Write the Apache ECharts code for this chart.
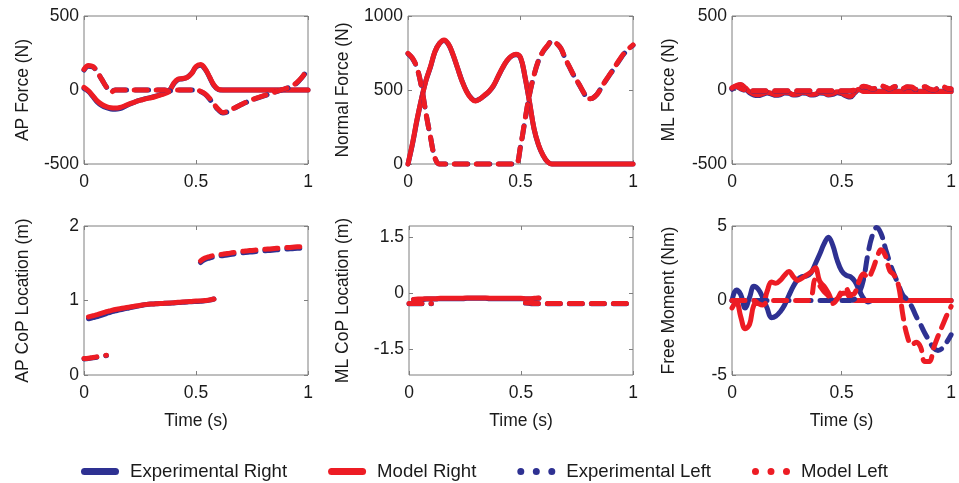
<!DOCTYPE html>
<html>
<head>
<meta charset="utf-8">
<script src="https://cdn.jsdelivr.net/npm/echarts@6/dist/echarts.min.js"></script>
<style>
html,body{margin:0;padding:0;background:#fff;}
#chart{width:959px;height:483px;}
</style>
</head>
<body>
<div id="chart"></div>
<script>
// ---- time grid (s) ----
const time = [0,0.02,0.04,0.06,0.08,0.10,0.12,0.14,0.16,0.18,
              0.20,0.22,0.24,0.26,0.28,0.30,0.32,0.34,0.36,0.38,
              0.40,0.42,0.44,0.46,0.48,0.50,0.52,0.54,0.56,0.58,
              0.60,0.62,0.64,0.66,0.68,0.70,0.72,0.74,0.76,0.78,
              0.80,0.82,0.84,0.86,0.88,0.90,0.92,0.94,0.96,0.98,1.00];

const seriesNames = ['Experimental Right','Model Right','Experimental Left','Model Left'];
const xTickLabels = ['0','0.5','1'];

// ---- AP Force (N) ----
const apExpRight = [10,-10,-45,-82,-106,-120,-128,-130,-125,-113,
  -98,-86,-74,-65,-57,-50,-42,-32,-20,-5,
  40,70,76,85,112,155,168,142,88,30,
  3,0,0,0,0,0,0,0,0,0,
  0,0,0,0,0,0,0,0,0,0,0];
const apModelRight = [18,-5,-40,-75,-98,-112,-120,-122,-118,-108,
  -95,-85,-74,-66,-58,-52,-44,-34,-24,-10,
  45,74,78,85,110,158,172,146,90,34,
  5,0,0,0,0,0,0,0,0,0,
  0,0,0,0,0,0,0,0,0,0,0];
const apExpLeft = [135,160,155,118,70,20,-10,0,0,0,
  0,0,0,0,0,0,0,0,0,-8,
  0,0,0,0,0,0,-10,-28,-60,-100,
  -135,-155,-148,-132,-116,-100,-86,-73,-61,-51,
  -41,-31,-21,-11,-1,9,20,35,62,98,143];
const apModelLeft = [140,165,158,120,70,20,-15,0,0,0,
  0,0,0,0,0,0,0,0,0,-10,
  0,0,0,0,0,0,-8,-25,-55,-95,
  -130,-152,-145,-130,-115,-100,-85,-72,-60,-50,
  -40,-30,-20,-10,0,10,22,38,65,100,146];

// ---- Normal Force (N) ----
const nfExpRight = [0,135,295,440,565,655,760,815,835,808,
  738,650,562,492,447,428,440,463,490,528,
  588,648,698,728,738,718,588,418,238,128,
  58,15,0,0,0,0,0,0,0,0,
  0,0,0,0,0,0,0,0,0,0,0];
const nfModelRight = [0,140,300,440,565,658,760,815,838,810,
  740,650,560,490,445,425,440,465,490,530,
  590,650,700,730,741,720,590,420,240,130,
  60,15,0,0,0,0,0,0,0,0,
  0,0,0,0,0,0,0,0,0,0,0];
const nfExpLeft = [745,712,648,520,342,182,42,0,0,0,
  0,0,0,0,0,0,0,0,0,0,
  0,0,0,0,0,118,295,468,598,698,
  758,798,828,815,778,708,648,588,538,484,
  440,445,470,518,565,610,655,702,745,775,802];
const nfModelLeft = [748,715,650,520,340,180,40,0,0,0,
  0,0,0,0,0,0,0,0,0,0,
  0,0,0,0,0,120,300,470,600,700,
  760,800,832,815,780,710,650,590,540,485,
  440,445,470,520,568,612,658,705,748,778,805];

// ---- ML Force (N) ----
const mlExpRight = [5,25,35,12,-18,-34,-38,-30,-20,-27,
  -36,-32,-20,-22,-34,-32,-20,-22,-34,-32,
  -20,-22,-34,-30,-18,-25,-40,-48,-20,2,
  -8,-8,-8,-8,-8,-8,-8,-8,-8,-8,
  -8,-8,-8,-8,-8,-8,-8,-8,-8,-8,-8];
const mlModelRight = [10,30,38,15,-12,-28,-32,-25,-15,-22,
  -32,-28,-15,-18,-30,-28,-15,-18,-30,-28,
  -15,-18,-30,-25,-12,-20,-35,-42,-15,5,
  -10,-10,-10,-10,-10,-10,-10,-10,-10,-10,
  -10,-10,-10,-10,-10,-10,-10,-10,-10,-10,-10];
const mlExpLeft = [12,22,8,-2,-6,-6,-6,-6,-6,-6,
  -6,-6,-6,-6,-6,-6,-6,-6,-6,-6,
  -6,-6,-6,-6,-6,-6,-6,-6,-2,8,
  22,18,6,12,25,18,6,20,22,8,
  20,18,3,10,20,6,-2,12,22,10,6];
const mlModelLeft = [15,25,10,0,-5,-5,-5,-5,-5,-5,
  -5,-5,-5,-5,-5,-5,-5,-5,-5,-5,
  -5,-5,-5,-5,-5,-5,-5,-5,0,10,
  25,20,8,15,28,20,8,22,25,10,
  22,20,5,12,22,8,0,15,25,12,8];

// ---- AP CoP Location (m) ----
const apCopExpRight = [null,0.755,0.77,0.785,0.805,0.825,0.845,0.86,0.875,0.888,
  0.90,0.912,0.925,0.937,0.946,0.952,0.956,0.96,0.962,0.964,
  0.968,0.972,0.976,0.98,0.984,0.987,0.99,0.995,1.005,1.02,
  null,null,null,null,null,null,null,null,null,null,
  null,null,null,null,null,null,null,null,null,null,null];
const apCopModelRight = [null,0.78,0.795,0.81,0.83,0.85,0.865,0.88,0.89,0.90,
  0.91,0.92,0.93,0.94,0.948,0.953,0.957,0.96,0.962,0.965,
  0.97,0.975,0.98,0.984,0.988,0.992,0.995,1.0,1.007,1.02,
  null,null,null,null,null,null,null,null,null,null,
  null,null,null,null,null,null,null,null,null,null,null];
const apCopExpLeft = [0.215,0.22,0.23,0.24,0.25,0.26,null,null,null,null,
  null,null,null,null,null,null,null,null,null,null,
  null,null,null,null,null,null,1.51,1.55,1.57,1.585,
  1.595,1.602,1.61,1.62,1.63,1.638,1.645,1.65,1.655,1.66,
  1.665,1.67,1.675,1.68,1.685,1.689,1.693,1.698,1.702,1.706,1.71];
const apCopModelLeft = [0.22,0.225,0.235,0.245,0.255,0.265,null,null,null,null,
  null,null,null,null,null,null,null,null,null,null,
  null,null,null,null,null,null,1.53,1.57,1.59,1.605,
  1.615,1.622,1.63,1.64,1.65,1.658,1.665,1.67,1.675,1.68,
  1.685,1.69,1.695,1.70,1.705,1.709,1.713,1.718,1.722,1.726,1.73];

// ---- ML CoP Location (m) ----
const mlCopExpRight = [null,-0.18,-0.17,-0.17,-0.16,-0.16,-0.16,-0.15,-0.15,-0.15,
  -0.15,-0.15,-0.15,-0.14,-0.14,-0.14,-0.14,-0.14,-0.15,-0.15,
  -0.15,-0.15,-0.15,-0.15,-0.15,-0.15,-0.16,-0.16,-0.15,-0.14,
  null,null,null,null,null,null,null,null,null,null,
  null,null,null,null,null,null,null,null,null,null,null];
const mlCopModelRight = [null,-0.17,-0.16,-0.16,-0.15,-0.15,-0.15,-0.14,-0.14,-0.14,
  -0.14,-0.14,-0.14,-0.13,-0.13,-0.13,-0.13,-0.13,-0.14,-0.14,
  -0.14,-0.14,-0.14,-0.14,-0.14,-0.14,-0.15,-0.15,-0.14,-0.13,
  null,null,null,null,null,null,null,null,null,null,
  null,null,null,null,null,null,null,null,null,null,null];
const mlCopExpLeft = [-0.29,-0.29,-0.29,-0.29,-0.29,-0.29,null,null,null,null,
  null,null,null,null,null,null,null,null,null,null,
  null,null,null,null,null,null,-0.27,-0.28,-0.29,-0.29,
  -0.29,-0.29,-0.29,-0.29,-0.29,-0.29,-0.29,-0.29,-0.29,-0.29,
  -0.29,-0.29,-0.29,-0.29,-0.29,-0.29,-0.29,-0.29,-0.29,-0.29,-0.29];
const mlCopModelLeft = [-0.28,-0.28,-0.28,-0.28,-0.28,-0.28,null,null,null,null,
  null,null,null,null,null,null,null,null,null,null,
  null,null,null,null,null,null,-0.26,-0.27,-0.28,-0.28,
  -0.28,-0.28,-0.28,-0.28,-0.28,-0.28,-0.28,-0.28,-0.28,-0.28,
  -0.28,-0.28,-0.28,-0.28,-0.28,-0.28,-0.28,-0.28,-0.28,-0.28,-0.28];

// ---- Free Moment (Nm) ----
const fmExpRight = [0,0.7,0.4,-0.5,0.2,0.95,0.75,0.2,-0.5,-1.15,
  -1.05,-0.75,-0.3,0.35,0.95,1.4,1.6,1.65,1.85,2.45,
  3.1,3.8,4.25,3.7,2.7,2.0,1.7,1.6,1.3,0.7,
  0.15,-0.1,0,0,0,0,0,0,0,0,
  0,0,0,0,0,0,0,0,0,0,0];
const fmModelRight = [-0.5,-0.1,-1.1,-1.9,-1.6,-0.3,-0.2,-0.2,0.6,1.25,
  1.15,1.35,1.7,1.95,1.6,1.35,1.5,1.7,1.9,2.2,
  1.3,0.95,0.5,0.0,0.1,0.45,0.5,0.15,0,0,
  0,0,0,0,0,0,0,0,0,0,
  0,0,0,0,0,0,0,0,0,0,0];
const fmExpLeft = [0,0,0,0,0,0,0,0,0,0,
  0,0,0,0,0,0,0,0,0,0,
  0,0,0,0,0,0,0,0,0.1,0.5,
  1.4,3.1,4.35,4.9,4.5,3.5,2.55,1.75,1.05,0.35,
  0.05,-0.4,-1.05,-1.6,-2.2,-2.7,-3.2,-3.35,-3.2,-2.8,-2.3];
const fmModelLeft = [0,0,0,0,0,0,-0.2,-0.3,-0.1,0,
  0,0,0,0,0,0,0,0,0.1,1.4,
  1.0,0.6,0.3,-0.2,0.1,0.6,0.8,0.4,0.5,1.3,
  1.8,1.5,2.0,2.8,3.4,3.0,2.0,1.7,1.0,-1.0,
  -2.4,-3.0,-2.8,-3.1,-4.1,-4.1,-3.2,-2.4,-1.7,-1.0,-0.4];

// ---- axis tick labels ----
const ticksAP = [-500,0,500];
const ticksNF = [0,500,1000];
const ticksML = [-500,0,500];
const ticksAPCoP = [0,1,2];
const ticksMLCoP = [-1.5,0,1.5];
const ticksFM = [-5,0,5];

const BLUE = '#2E3192', RED = '#ED1C24';
const FONT = 'Liberation Sans, Arial, sans-serif';
const TXT = '#1a1a1a';
const FRAME = '#7f7f7f';

const panels = [
  {left:84, top:16, width:224, height:148, min:-500, max:500, ticks:ticksAP, name:'AP Force (N)', gap:52, data:[apExpRight,apModelRight,apExpLeft,apModelLeft], xname:false},
  {left:408, top:16, width:225, height:148, min:0, max:1000, ticks:ticksNF, name:'Normal Force (N)', gap:56, data:[nfExpRight,nfModelRight,nfExpLeft,nfModelLeft], xname:false},
  {left:732, top:16, width:224, height:148, min:-500, max:500, ticks:ticksML, name:'ML Force (N)', gap:54, data:[mlExpRight,mlModelRight,mlExpLeft,mlModelLeft], xname:false},
  {left:84, top:226, width:224, height:149, min:0, max:2, ticks:ticksAPCoP, name:'AP CoP Location (m)', gap:52, data:[apCopExpRight,apCopModelRight,apCopExpLeft,apCopModelLeft], xname:true},
  {left:409, top:226, width:224, height:149, min:-2.2, max:1.8, ticks:ticksMLCoP, name:'ML CoP Location (m)', gap:57, data:[mlCopExpRight,mlCopModelRight,mlCopExpLeft,mlCopModelLeft], xname:true},
  {left:732, top:226, width:224, height:149, min:-5, max:5, ticks:ticksFM, name:'Free Moment (Nm)', gap:54, data:[fmExpRight,fmModelRight,fmExpLeft,fmModelLeft], xname:true}
];

const grids = [], xAxes = [], yAxes = [], series = [];
const styles = [
  {color:BLUE, type:'solid'},
  {color:RED, type:'solid'},
  {color:BLUE, type:[13,9]},
  {color:RED, type:[13,9]}
];
const xVals = xTickLabels.map(Number);
const noLine = {show:false, onZero:false};

panels.forEach((p, i) => {
  grids.push({left:p.left, top:p.top, width:p.width, height:p.height, show:true, borderColor:FRAME, borderWidth:1, backgroundColor:'transparent', containLabel:false});
  const tickStyle = {show:true, inside:true, length:4, lineStyle:{color:FRAME, width:1}};
  xAxes.push({
    type:'value', gridIndex:i, position:'bottom', min:0, max:1,
    axisLine:noLine, splitLine:{show:false},
    axisTick:Object.assign({customValues:xVals}, tickStyle),
    axisLabel:{customValues:xVals, formatter:v => xTickLabels[xVals.indexOf(v)] ?? String(v), fontFamily:FONT, fontSize:17.5, color:TXT, margin:9},
    name: p.xname ? 'Time (s)' : '', nameLocation:'middle', nameGap:37,
    nameTextStyle:{fontFamily:FONT, fontSize:17.5, color:TXT}
  });
  xAxes.push({
    type:'value', gridIndex:i, position:'top', min:0, max:1,
    axisLine:noLine, splitLine:{show:false},
    axisTick:Object.assign({customValues:xVals}, tickStyle),
    axisLabel:{show:false}
  });
  yAxes.push({
    type:'value', gridIndex:i, position:'left', min:p.min, max:p.max,
    axisLine:noLine, splitLine:{show:false},
    axisTick:Object.assign({customValues:p.ticks}, tickStyle),
    axisLabel:{customValues:p.ticks, formatter:v => String(v), fontFamily:FONT, fontSize:17.5, color:TXT, margin:5},
    name:p.name, nameLocation:'middle', nameGap:p.gap,
    nameTextStyle:{fontFamily:FONT, fontSize:17.5, color:TXT}
  });
  yAxes.push({
    type:'value', gridIndex:i, position:'right', min:p.min, max:p.max,
    axisLine:noLine, splitLine:{show:false},
    axisTick:Object.assign({customValues:p.ticks}, tickStyle),
    axisLabel:{show:false}
  });
  p.data.forEach((arr, k) => {
    series.push({
      type:'line', name:seriesNames[k], xAxisIndex:2*i, yAxisIndex:2*i,
      data: time.map((t, j) => [t, arr[j]]),
      smooth:0.4, showSymbol:false, symbol:'none', clip:false, connectNulls:false,
      color: styles[k].color,
      lineStyle:{color:styles[k].color, width:5, type:styles[k].type, cap:'round', join:'round'},
      emphasis:{disabled:true}, silent:true, animation:false
    });
  });
});

const solidIcon = 'path://M3.5,0 L34.5,0 A3.5,3.5 0 0 1 34.5,7 L3.5,7 A3.5,3.5 0 0 1 3.5,0 Z';
const dotIcon = 'path://M0,3.5 A3.5,3.5 0 1 0 7,3.5 A3.5,3.5 0 1 0 0,3.5 Z M15.5,3.5 A3.5,3.5 0 1 0 22.5,3.5 A3.5,3.5 0 1 0 15.5,3.5 Z M31,3.5 A3.5,3.5 0 1 0 38,3.5 A3.5,3.5 0 1 0 31,3.5 Z';

const chart = echarts.init(document.getElementById('chart'), null, {renderer:'canvas'});
chart.setOption({
  animation:false,
  backgroundColor:'#ffffff',
  grid:grids, xAxis:xAxes, yAxis:yAxes, series:series,
  legend:{
    left:76, top:457, itemWidth:38, itemHeight:7, itemGap:41, selectedMode:false,
    data:[
      {name:seriesNames[0], icon:solidIcon},
      {name:seriesNames[1], icon:solidIcon},
      {name:seriesNames[2], icon:dotIcon},
      {name:seriesNames[3], icon:dotIcon}
    ],
    itemStyle:{borderWidth:0},
    lineStyle:{width:0},
    textStyle:{fontFamily:FONT, fontSize:18.6, color:TXT, padding:[0,0,0,6]}
  }
});
</script>
</body>
</html>
